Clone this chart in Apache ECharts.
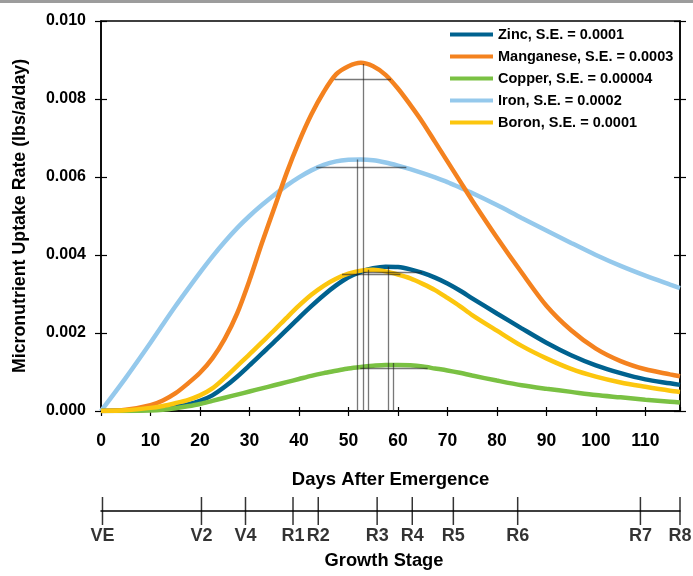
<!DOCTYPE html>
<html>
<head>
<meta charset="utf-8">
<script src="https://cdn.jsdelivr.net/npm/echarts@6/dist/echarts.min.js"></script>
<style>
  html, body { margin: 0; padding: 0; background: #fff; }
  #chart { width: 693px; height: 576px; }
</style>
</head>
<body>
<div id="chart"></div>
<script>
const days = [0, 5, 10, 12.5, 15, 17.5, 20, 22.5, 25, 27.5, 30, 32.5, 35, 37.5, 40, 42.5, 45, 47.5, 50, 52.5,
  55, 57.5, 60, 62.5, 65, 67.5, 70, 72.5, 75, 80, 85, 90, 95, 100, 105, 110, 115, 117];

const zinc = [0, 0.00001, 0.00004, 0.00007, 0.00011, 0.00017, 0.00026, 0.0004, 0.00062, 0.00088, 0.00117, 0.00147, 0.00177, 0.00208, 0.00239, 0.00269, 0.00297, 0.00322, 0.00343, 0.00357,
  0.00366, 0.0037, 0.00369, 0.00363, 0.00354, 0.00342, 0.00327, 0.00309, 0.00289, 0.0025, 0.00212, 0.00175, 0.00143, 0.00117, 0.00097, 0.00081, 0.00071, 0.00067];
const manganese = [0, 0.00003, 0.00015, 0.00027, 0.00045, 0.0007, 0.00098, 0.00135, 0.00185, 0.0025, 0.00335, 0.0043, 0.0052, 0.0061, 0.0069, 0.0076, 0.00818, 0.00863, 0.00884, 0.00893,
  0.00884, 0.00862, 0.00827, 0.00785, 0.0074, 0.0069, 0.0064, 0.0059, 0.0054, 0.00445, 0.00355, 0.0027, 0.00207, 0.0016, 0.00128, 0.00107, 0.00094, 0.00089];
const copper = [0, 0, 0.00001, 0.00003, 0.00007, 0.00012, 0.00018, 0.00026, 0.00034, 0.00042, 0.0005, 0.00058, 0.00066, 0.00074, 0.00082, 0.0009, 0.00097, 0.00103, 0.00109, 0.00113,
  0.00116, 0.00118, 0.00118, 0.00117, 0.00114, 0.00109, 0.00104, 0.00098, 0.00091, 0.00078, 0.00066, 0.00057, 0.00049, 0.00041, 0.00035, 0.00029, 0.00024, 0.00022];
const iron = [0, 0.00085, 0.00175, 0.00222, 0.00268, 0.00312, 0.00355, 0.00396, 0.00434, 0.00469, 0.005, 0.00528, 0.00554, 0.00578, 0.00599, 0.00617, 0.00631, 0.0064, 0.00644, 0.00645,
  0.00643, 0.00637, 0.00629, 0.0062, 0.0061, 0.00599, 0.00587, 0.00573, 0.00559, 0.00528, 0.00495, 0.00463, 0.00431, 0.004, 0.00372, 0.00347, 0.00324, 0.00315];
const boron = [0, 0.00002, 0.00008, 0.00013, 0.0002, 0.00028, 0.0004, 0.00058, 0.00085, 0.00115, 0.00145, 0.00176, 0.00207, 0.00239, 0.0027, 0.00298, 0.00321, 0.00339, 0.00352, 0.0036,
  0.00362, 0.00358, 0.0035, 0.0034, 0.00326, 0.0031, 0.0029, 0.00269, 0.00246, 0.00206, 0.00167, 0.00135, 0.00108, 0.00088, 0.00073, 0.00062, 0.00052, 0.00049];

const seriesNames = ['Zinc, S.E. = 0.0001', 'Manganese, S.E. = 0.0003', 'Copper, S.E. = 0.00004', 'Iron, S.E. = 0.0002', 'Boron, S.E. = 0.0001'];
const seriesColors = ['#00628f', '#f4821f', '#7ac143', '#95c9ec', '#fcc60e'];

// peak markers: vertical drop line and horizontal bar, same order as series
const peakDays = [58.0, 52.9, 59.0, 51.8, 54.1];
const peakValues = [0.0037, 0.0089, 0.00123, 0.00645, 0.00362];
const barLevels = [0.00355, 0.0085, 0.0011, 0.00624, 0.0035];
const barStarts = [53.0, 47.2, 52.4, 43.5, 48.7];
const barEnds = [64.9, 58.6, 66.0, 61.7, 60.5];

const stageNames = ['VE', 'V2', 'V4', 'R1', 'R2', 'R3', 'R4', 'R5', 'R6', 'R7', 'R8'];
const stageDays = [0.3, 20.3, 29.2, 38.8, 43.9, 55.8, 62.9, 71.2, 84.2, 109.0, 117.0];

const yTicks = ['0.000', '0.002', '0.004', '0.006', '0.008', '0.010'];

const font = '"Liberation Sans", Arial, sans-serif';

const chart = echarts.init(document.getElementById('chart'));

const curves = [zinc, manganese, copper, iron, boron].map((vals, i) => ({
  name: seriesNames[i],
  type: 'line',
  xAxisIndex: 0,
  yAxisIndex: 0,
  smooth: 0.3,
  showSymbol: false,
  symbol: 'none',
  z: i === 3 ? 2 : 3,
  color: seriesColors[i],
  lineStyle: { width: 4.5, color: seriesColors[i] },
  data: days.map((d, k) => [d, vals[k]])
}));

const markerLines = [];
peakDays.forEach((d, i) => {
  markerLines.push({ coords: [[d, peakValues[i]], [d, 0]] });
  markerLines.push({ coords: [[barStarts[i], barLevels[i]], [barEnds[i], barLevels[i]]] });
});

const axisBlack = { onZero: false, lineStyle: { color: '#000', width: 1.5 } };

const option = {
  animation: false,
  backgroundColor: '#fff',
  grid: [
    { left: 101, right: 13, top: 21, bottom: 165, show: true, borderColor: '#000', borderWidth: 1.5 },
    { left: 101, right: 13, top: 511, height: 10 }
  ],
  legend: {
    orient: 'vertical',
    left: 445,
    top: 21,
    icon: 'rect',
    itemWidth: 43,
    itemHeight: 4,
    itemGap: 5,
    data: seriesNames,
    textStyle: { fontFamily: font, fontWeight: 'bold', fontSize: 14.5, color: '#000', lineHeight: 17 }
  },
  xAxis: [
    {
      gridIndex: 0, type: 'value', min: 0, max: 117, interval: 10, position: 'bottom',
      name: 'Days After Emergence', nameLocation: 'middle', nameGap: 59,
      nameTextStyle: { fontFamily: font, fontWeight: 'bold', fontSize: 18.5, color: '#000' },
      axisLine: axisBlack,
      axisTick: { show: true, length: 5, lineStyle: { color: '#000', width: 1.2 } },
      axisLabel: { margin: 21, showMaxLabel: false, fontFamily: font, fontWeight: 'bold', fontSize: 17.5, color: '#000' },
      splitLine: { show: false }
    },
    {
      gridIndex: 0, type: 'value', min: 0, max: 117, interval: 10, position: 'bottom',
      axisLine: { show: false, onZero: false },
      axisTick: { show: true, inside: true, length: 4, lineStyle: { color: '#000', width: 1.2 } },
      axisLabel: { show: false },
      splitLine: { show: false }
    },
    {
      gridIndex: 1, type: 'value', min: 0, max: 117, position: 'top',
      axisLine: axisBlack,
      axisTick: { show: false },
      axisLabel: { show: false },
      splitLine: { show: false }
    }
  ],
  yAxis: [
    {
      gridIndex: 0, type: 'value', min: 0, max: 0.01, interval: 0.002, position: 'left',
      name: 'Micronutrient Uptake Rate (lbs/a/day)', nameLocation: 'middle', nameGap: 72,
      nameTextStyle: { fontFamily: font, fontWeight: 'bold', fontSize: 17.8, color: '#000' },
      axisLine: axisBlack,
      axisTick: { show: true, length: 6, lineStyle: { color: '#000', width: 1.2 } },
      axisLabel: { margin: 15, fontFamily: font, fontWeight: 'bold', fontSize: 16, color: '#000',
        formatter: v => yTicks[Math.round(v / 0.002)] },
      splitLine: { show: false }
    },
    {
      gridIndex: 0, type: 'value', min: 0, max: 0.01, interval: 0.002, position: 'left',
      axisLine: { show: false, onZero: false },
      axisTick: { show: true, inside: true, length: 6, lineStyle: { color: '#000', width: 1.2 } },
      axisLabel: { show: false },
      splitLine: { show: false }
    },
    {
      gridIndex: 0, type: 'value', min: 0, max: 0.01, interval: 0.002, position: 'right',
      axisLine: axisBlack,
      axisTick: { show: true, length: 6, lineStyle: { color: '#000', width: 1.2 } },
      axisLabel: { show: false },
      splitLine: { show: false }
    },
    {
      gridIndex: 0, type: 'value', min: 0, max: 0.01, interval: 0.002, position: 'right',
      axisLine: { show: false, onZero: false },
      axisTick: { show: true, inside: true, length: 6, lineStyle: { color: '#000', width: 1.2 } },
      axisLabel: { show: false },
      splitLine: { show: false }
    },
    {
      gridIndex: 1, type: 'value', min: 0, max: 1, show: false
    }
  ],
  graphic: [
    { type: 'rect', shape: { x: 0, y: 0, width: 693, height: 3 }, style: { fill: '#9c9c9c' } },
    { type: 'text', style: { text: 'Growth Stage', x: 384, y: 561, align: 'center', verticalAlign: 'middle',
        font: 'bold 18.3px ' + font, fill: '#000' } }
  ],
  series: curves.concat([
    {
      type: 'lines',
      coordinateSystem: 'cartesian2d',
      xAxisIndex: 0,
      yAxisIndex: 0,
      z: 5,
      silent: true,
      lineStyle: { color: 'rgba(30,30,30,0.6)', width: 1.3, opacity: 1 },
      data: markerLines
    },
    {
      type: 'scatter',
      xAxisIndex: 2,
      yAxisIndex: 4,
      symbol: 'rect',
      symbolSize: [1.5, 28],
      itemStyle: { color: '#000' },
      silent: true,
      label: {
        show: true, position: 'bottom', distance: 2,
        fontFamily: font, fontWeight: 'bold', fontSize: 18, lineHeight: 18, color: '#000',
        formatter: p => stageNames[p.dataIndex]
      },
      data: stageDays.map(d => [d, 1])
    }
  ])
};

chart.setOption(option);
</script>
</body>
</html>
